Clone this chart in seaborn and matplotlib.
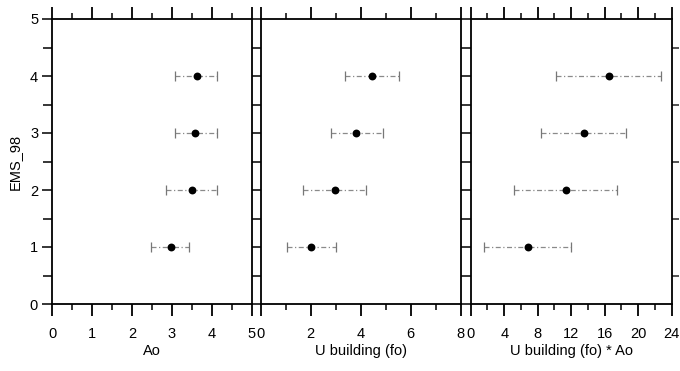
import numpy as np
import pandas as pd
import seaborn as sns
import matplotlib
matplotlib.use("Agg")
import matplotlib.pyplot as plt
from matplotlib.ticker import MultipleLocator

# ---- data ----
ems = [1, 2, 3, 4]

ao_mean = [2.97, 3.51, 3.59, 3.63]
ao_low = [2.48, 2.86, 3.08, 3.08]
ao_high = [3.44, 4.14, 4.12, 4.14]

fo_mean = [2.00, 2.96, 3.83, 4.47]
fo_low = [1.04, 1.71, 2.81, 3.39]
fo_high = [3.00, 4.20, 4.88, 5.53]

foao_mean = [6.81, 11.42, 13.53, 16.52]
foao_low = [1.63, 5.13, 8.44, 10.23]
foao_high = [12.02, 17.51, 18.59, 22.77]

xlabels = ["Ao", "U building (fo)", "U building (fo) * Ao"]
xlims = [(0, 5), (0, 8), (0, 24)]
xmajor = [1, 2, 4]
xminor = [0.5, 1, 2]
ylabel = "EMS_98"

sns.set_theme(style="white")
plt.rcParams["font.family"] = ["Liberation Sans", "DejaVu Sans"]

fig = plt.figure(figsize=(6.8, 3.71), dpi=100)
W, H = 680.0, 371.0
bottom = 1 - 304 / H
height = (304 - 19) / H
lefts = [52, 260.7, 470.7]
widths = [199.7, 200.0, 201.0]

series = [
    (ao_mean, ao_low, ao_high),
    (fo_mean, fo_low, fo_high),
    (foao_mean, foao_low, foao_high),
]

for i, (m, lo, hi) in enumerate(series):
    ax = fig.add_axes([lefts[i] / W, bottom, widths[i] / W, height])
    df = pd.DataFrame({"x": m, "y": ems, "lo": lo, "hi": hi})
    ax.hlines(df["y"], df["lo"], df["hi"], colors="#8a8a8a",
              linestyles=(0, (4, 2, 1, 2)), linewidth=0.9, zorder=2)
    ax.vlines(df["lo"], df["y"] - 0.09, df["y"] + 0.09, colors="#777777",
              linewidth=0.9, zorder=2)
    ax.vlines(df["hi"], df["y"] - 0.09, df["y"] + 0.09, colors="#777777",
              linewidth=0.9, zorder=2)
    sns.scatterplot(data=df, x="x", y="y", ax=ax, color="black", s=32,
                    edgecolor="black", linewidth=0, zorder=3)

    ax.set_xlim(*xlims[i])
    ax.set_ylim(0, 5)
    ax.xaxis.set_major_locator(MultipleLocator(xmajor[i]))
    ax.xaxis.set_minor_locator(MultipleLocator(xminor[i]))
    ax.yaxis.set_major_locator(MultipleLocator(1))
    ax.yaxis.set_minor_locator(MultipleLocator(0.5))

    for sp in ax.spines.values():
        sp.set_color("black")
        sp.set_linewidth(1.3)

    ax.tick_params(axis="x", which="major", direction="out", length=8.5,
                   width=1.3, color="black", top=True, bottom=True,
                   labelsize=10.5, pad=8, labelcolor="black")
    ax.tick_params(axis="x", which="minor", direction="out", length=4.5,
                   width=1.1, color="black", top=True, bottom=True)

    # y ticks
    if i == 0:
        ax.tick_params(axis="y", which="major", direction="out", length=7,
                       width=1.3, left=True, right=True, labelleft=True,
                       labelsize=10.5, pad=3, labelcolor="black")
        ax.tick_params(axis="y", which="minor", direction="out", length=3.8,
                       width=1.1, left=True, right=True)
        ax.set_ylabel(ylabel, fontsize=10.5, labelpad=6, color="black")
    else:
        ax.tick_params(axis="y", which="both", left=False, labelleft=False)
        ax.set_ylabel("")
    if i == 0:
        # ticks bridge the gap to next panel
        ax.tick_params(axis="y", which="both", right=True, length=6.5,
                       direction="out", width=1.3)
        ax.tick_params(axis="y", which="major", left=True, length=7)
        ax.tick_params(axis="y", which="minor", left=True)
    elif i == 1:
        ax.tick_params(axis="y", which="both", right=True, length=7.2,
                       direction="out", width=1.3)
    else:
        ax.tick_params(axis="y", which="major", right=False)
        ax.tick_params(axis="y", which="minor", right=True, length=5,
                       direction="out", width=1.1)

    ax.set_xlabel(xlabels[i], fontsize=10.5, labelpad=2, color="black")
    ax.set_facecolor("white")

fig.savefig("out.png", dpi=100, facecolor="white")
